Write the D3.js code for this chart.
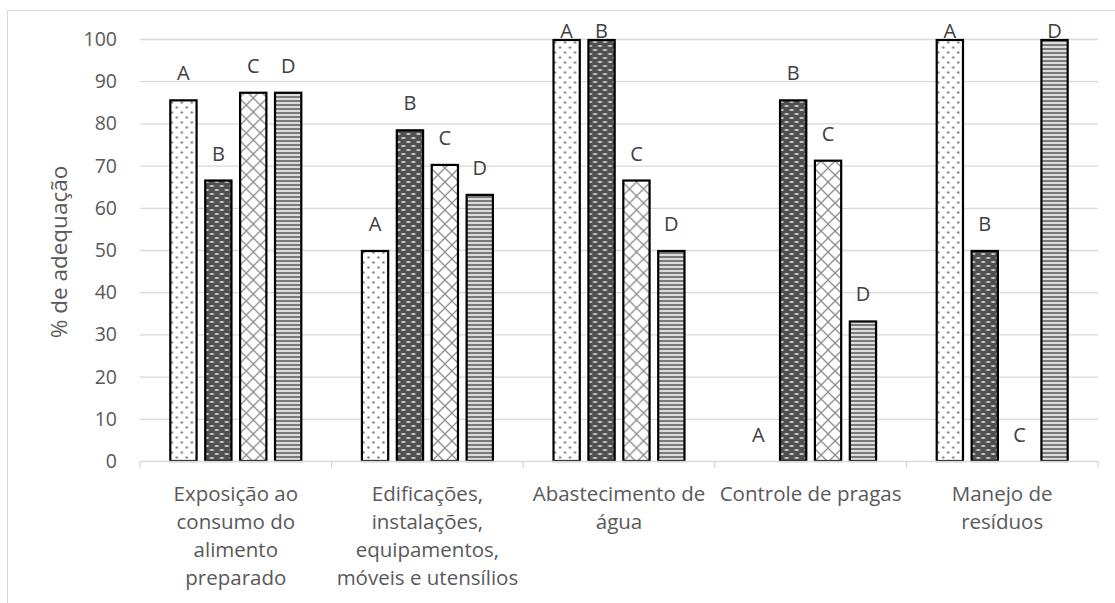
<!DOCTYPE html>
<html>
<head>
<meta charset="utf-8">
<script src="https://cdn.jsdelivr.net/npm/d3@7"></script>
<style>
  body { margin: 0; background: #fff; }
  text { font-family: "Open Sans", sans-serif; }
</style>
</head>
<body>
<div id="chart"></div>
<script>
// Data
const categories = [
  "Exposição ao consumo do alimento preparado",
  "Edificações, instalações, equipamentos, móveis e utensílios",
  "Abastecimento de água",
  "Controle de pragas",
  "Manejo de resíduos"
];
const categoryLines = [
  ["Exposição ao", "consumo do", "alimento", "preparado"],
  ["Edificações,", "instalações,", "equipamentos,", "móveis e utensílios"],
  ["Abastecimento de", "água"],
  ["Controle de pragas"],
  ["Manejo de", "resíduos"]
];
const series = ["A", "B", "C", "D"];
const valuesA = [85.7, 50, 100, 0, 100];
const valuesB = [66.7, 78.6, 100, 85.7, 50];
const valuesC = [87.5, 70.4, 66.7, 71.4, 0];
const valuesD = [87.5, 63.3, 50, 33.3, 100];
const yTicks = [0, 10, 20, 30, 40, 50, 60, 70, 80, 90, 100];

const width = 1115;
const height = 603;
const plot = { left: 140, right: 1098, top: 39, bottom: 461 };

const svg = d3.select("#chart")
  .append("svg")
    .attr("width", width)
    .attr("height", height);

// ------ Patterns ------ //
const defs = svg.append("defs");

const pA = defs.append("pattern")
  .attr("id", "patA").attr("patternUnits", "userSpaceOnUse")
  .attr("width", 10).attr("height", 10);
pA.append("rect").attr("width", 10).attr("height", 10).attr("fill", "#fff");
pA.append("circle").attr("cx", 2.5).attr("cy", 2.5).attr("r", 1.2).attr("fill", "#808080");
pA.append("circle").attr("cx", 7.5).attr("cy", 7.5).attr("r", 1.2).attr("fill", "#808080");

const pB = defs.append("pattern")
  .attr("id", "patB").attr("patternUnits", "userSpaceOnUse")
  .attr("width", 10).attr("height", 8);
pB.append("rect").attr("width", 10).attr("height", 8).attr("fill", "#505050");
pB.append("ellipse").attr("cx", 2.5).attr("cy", 2).attr("rx", 2.3).attr("ry", 1.1).attr("fill", "#d0d0d0");
pB.append("ellipse").attr("cx", 7.5).attr("cy", 6).attr("rx", 2.3).attr("ry", 1.1).attr("fill", "#d0d0d0");

const pC = defs.append("pattern")
  .attr("id", "patC").attr("patternUnits", "userSpaceOnUse")
  .attr("width", 14).attr("height", 14);
pC.append("rect").attr("width", 14).attr("height", 14).attr("fill", "#fff");
pC.append("path").attr("d", "M0,0L14,14M14,0L0,14")
  .attr("stroke", "#8c8c8c").attr("stroke-width", 1.3);

const pD = defs.append("pattern")
  .attr("id", "patD").attr("patternUnits", "userSpaceOnUse")
  .attr("width", 4).attr("height", 4);
pD.append("rect").attr("width", 4).attr("height", 4).attr("fill", "#dcdcdc");
pD.append("rect").attr("width", 4).attr("height", 2).attr("fill", "#7a7a7a");

const fills = { A: "url(#patA)", B: "url(#patB)", C: "url(#patC)", D: "url(#patD)" };

// Chart area border
svg.append("rect")
  .attr("x", 7.5).attr("y", 10.5)
  .attr("width", width).attr("height", height)
  .attr("fill", "none")
  .attr("stroke", "#d9d9d9");

// ------ Scales ------ //
const x0 = d3.scaleBand()
  .domain(categories)
  .range([plot.left, plot.right])
  .paddingInner(0.306)
  .paddingOuter(0.153);

const x1 = d3.scaleBand()
  .domain(series)
  .range([0, x0.bandwidth()])
  .paddingInner(0.19);

const y = d3.scaleLinear()
  .domain([0, 100])
  .range([plot.bottom, plot.top]);

// Gridlines
svg.append("g")
  .selectAll("line")
  .data(yTicks.filter(d => d > 0))
  .join("line")
    .attr("x1", plot.left).attr("x2", plot.right)
    .attr("y1", d => y(d) + 0.5).attr("y2", d => y(d) + 0.5)
    .attr("stroke", "#d9d9d9")
    .attr("stroke-width", 1.3);

// Y axis labels
svg.append("g")
  .selectAll("text")
  .data(yTicks)
  .join("text")
    .attr("x", 117)
    .attr("y", d => y(d))
    .attr("dy", "0.36em")
    .attr("text-anchor", "end")
    .attr("font-size", 19.5)
    .attr("fill", "#595959")
    .text(d => d);

// Y axis title
svg.append("text")
  .attr("transform", `translate(67, ${(plot.top + plot.bottom) / 2 + 2}) rotate(-90)`)
  .attr("text-anchor", "middle")
  .attr("font-size", 22.5)
  .attr("fill", "#595959")
  .text("% de adequação");

// ------ Bars ------ //
const data = categories.map((c, i) => ({
  category: c,
  values: [
    { key: "A", value: valuesA[i] },
    { key: "B", value: valuesB[i] },
    { key: "C", value: valuesC[i] },
    { key: "D", value: valuesD[i] }
  ]
}));

const groups = svg.append("g")
  .selectAll("g")
  .data(data)
  .join("g")
    .attr("transform", d => `translate(${x0(d.category)}, 0)`);

groups.selectAll("rect")
  .data(d => d.values.filter(v => v.value > 0))
  .join("rect")
    .attr("x", d => x1(d.key) + 1)
    .attr("y", d => y(d.value) + 1)
    .attr("width", x1.bandwidth() - 2)
    .attr("height", d => y(0) - y(d.value) - 1)
    .attr("fill", d => fills[d.key])
    .attr("stroke", "#000")
    .attr("stroke-width", 2.2);

// Series letters above each bar (pushed inside the plot area at the top)
groups.selectAll("text")
  .data(d => d.values)
  .join("text")
    .attr("x", d => x1(d.key) + x1.bandwidth() / 2)
    .attr("y", d => Math.max(y(d.value) - 19, 37.5))
    .attr("text-anchor", "middle")
    .attr("font-size", 20)
    .attr("fill", "#404040")
    .text(d => d.key);

// X axis line and ticks
svg.append("line")
  .attr("x1", plot.left).attr("x2", plot.right)
  .attr("y1", plot.bottom + 0.5).attr("y2", plot.bottom + 0.5)
  .attr("stroke", "#d9d9d9")
  .attr("stroke-width", 1.3);

const step = x0.step();
svg.append("g")
  .selectAll("line")
  .data(d3.range(categories.length + 1))
  .join("line")
    .attr("x1", i => plot.left + i * step).attr("x2", i => plot.left + i * step)
    .attr("y1", plot.bottom).attr("y2", plot.bottom + 7)
    .attr("stroke", "#d9d9d9")
    .attr("stroke-width", 1.3);

// Category labels
const catLabels = svg.append("g")
  .selectAll("text")
  .data(categories)
  .join("text")
    .attr("x", d => x0(d) + x0.bandwidth() / 2)
    .attr("y", 500.5)
    .attr("text-anchor", "middle")
    .attr("font-size", 20.5)
    .attr("fill", "#595959");

catLabels.selectAll("tspan")
  .data((d, i) => categoryLines[i])
  .join("tspan")
    .attr("x", function() { return d3.select(this.parentNode).attr("x"); })
    .attr("dy", (d, i) => i === 0 ? 0 : 28.3)
    .text(d => d);
</script>
</body>
</html>
